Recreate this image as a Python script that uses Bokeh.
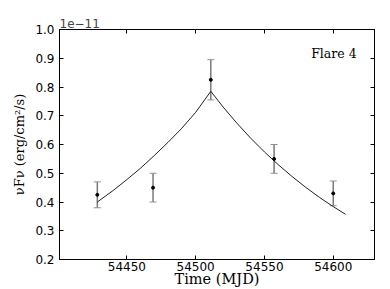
from bokeh.plotting import figure
from bokeh.models import (Range1d, LinearAxis, FixedTicker, Whisker, ColumnDataSource,
                          Label, TeeHead, PrintfTickFormatter)
from bokeh.embed import file_html
from bokeh.resources import INLINE

# observed points (flux in units of 1e-11 erg/cm2/s)
obs_mjd = [54428.5, 54469.0, 54511.0, 54557.0, 54600.0]
obs_flux = [0.425, 0.450, 0.825, 0.550, 0.430]
obs_err = [0.045, 0.050, 0.070, 0.050, 0.043]

# model curve
model_mjd = [54428.5, 54440, 54450, 54460, 54470, 54480, 54490, 54500, 54511,
             54520, 54530, 54540, 54550, 54560, 54570, 54580, 54590, 54600, 54609]
model_flux = [0.400, 0.440, 0.478, 0.518, 0.562, 0.608, 0.657, 0.712, 0.785,
              0.730, 0.674, 0.622, 0.574, 0.530, 0.489, 0.451, 0.416, 0.384, 0.357]

x_start, x_end = 54401, 54630
y_start, y_end = 0.2, 1.0
x_ticks = [54450, 54500, 54550, 54600]
y_ticks = [0.2, 0.3, 0.4, 0.5, 0.6, 0.7, 0.8, 0.9, 1.0]
scale_label = "1e\u221211"
flare_label = "Flare 4"
x_label = "Time (MJD)"
y_label = "\u03bdF\u03bd (erg/cm\u00b2/s)"

p = figure(width=390, height=289, output_backend="svg", toolbar_location=None,
           x_range=Range1d(x_start, x_end), y_range=Range1d(y_start, y_end),
           min_border_left=59, min_border_right=16, min_border_top=29, min_border_bottom=30)
p.grid.visible = False
p.outline_line_color = "black"
p.background_fill_color = "white"
p.border_fill_color = "white"

p.title.text = scale_label
p.title.align = "left"
p.title.text_font = "DejaVu Sans"
p.title.text_font_style = "normal"
p.title.text_font_size = "12px"
p.title.standoff = 4
p.title.offset = 0

serif = "DejaVu Serif"
for ax in p.xaxis:
    ax.ticker = FixedTicker(ticks=x_ticks)
    ax.axis_label = x_label
    ax.axis_label_text_font_size = "14.5px"
for ax in p.yaxis:
    ax.ticker = FixedTicker(ticks=y_ticks)
    ax.formatter = PrintfTickFormatter(format="%.1f")
    ax.axis_label = y_label
    ax.axis_label_text_font_size = "13px"
for ax in p.xaxis + p.yaxis:
    ax.major_tick_in = 4
    ax.major_tick_out = 0
    ax.minor_tick_line_color = None
    ax.major_label_text_font = "DejaVu Sans"
    ax.major_label_text_font_size = "12px"
    ax.major_label_text_color = "black"
    ax.axis_label_text_font = serif
    ax.axis_label_text_font_style = "normal"
    ax.axis_label_text_color = "black"
    ax.axis_line_color = "black"
    ax.major_tick_line_color = "black"
p.xaxis.major_label_standoff = 2
p.xaxis.axis_label_standoff = -3
p.yaxis.major_label_standoff = 5
p.yaxis.axis_label_standoff = 5

right = LinearAxis(ticker=FixedTicker(ticks=y_ticks))
top = LinearAxis(ticker=FixedTicker(ticks=x_ticks))
for ax in (right, top):
    ax.major_tick_in = 4
    ax.major_tick_out = 0
    ax.minor_tick_line_color = None
    ax.major_label_text_font_size = "1px"
    ax.major_label_text_color = None
    ax.major_label_standoff = 0
    ax.axis_line_color = "black"
p.add_layout(right, "right")
p.add_layout(top, "above")

lower = [f - e for f, e in zip(obs_flux, obs_err)]
upper = [f + e for f, e in zip(obs_flux, obs_err)]
src = ColumnDataSource(dict(x=obs_mjd, y=obs_flux, lower=lower, upper=upper))

p.line(model_mjd, model_flux, line_color="#222222", line_width=1)

wh = Whisker(base="x", lower="lower", upper="upper", source=src, dimension="height",
             line_color="#7a7a7a", line_width=1.5,
             upper_head=TeeHead(size=7, line_color="#909090", line_width=1),
             lower_head=TeeHead(size=7, line_color="#909090", line_width=1))
p.add_layout(wh)
p.scatter("x", "y", source=src, size=3, color="black")

p.add_layout(Label(x=54617, y=0.916, text=flare_label, text_align="right",
                   text_baseline="middle", text_font=serif,
                   text_font_size="12.5px", text_color="black"))

open("out.html", "w").write(file_html(p, INLINE))
